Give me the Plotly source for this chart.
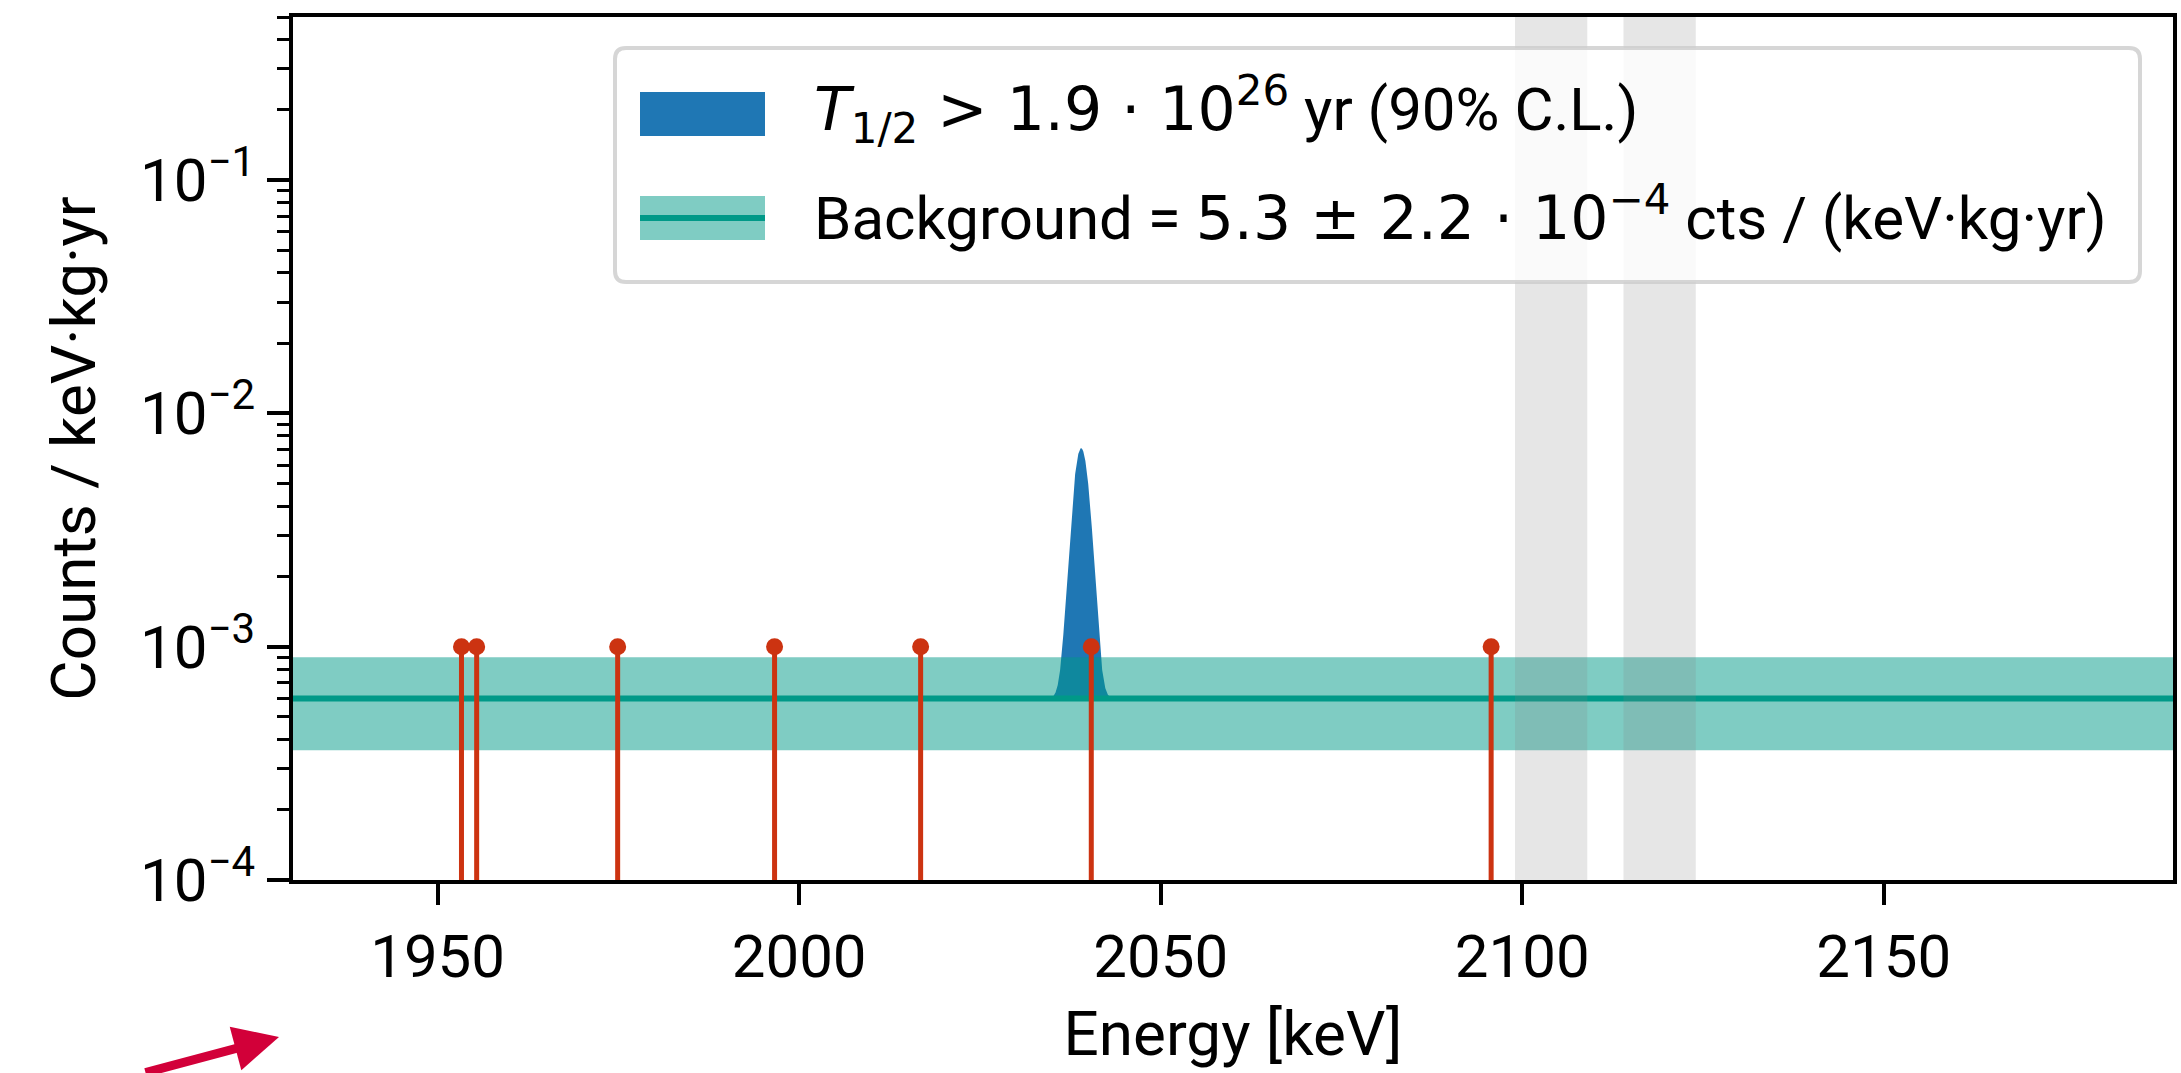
import numpy as np
import plotly.graph_objects as go

# ---------------- data ----------------
event_energies = [1953.3, 1955.4, 1974.9, 1996.6, 2016.8, 2040.4, 2095.7]   # keV
event_level = 1.0e-3

bkg_level = 6.0e-4
bkg_low = 3.6e-4
bkg_high = 9.0e-4

peak_center = 2039.0     # keV
peak_sigma = 1.1         # keV
peak_amplitude = 6.5e-3  # cts/(keV kg yr) above background

excluded_lo = [2099.0, 2114.0]
excluded_hi = [2109.0, 2124.0]

x_range = [1930.0, 2190.0]
y_range = [1.0e-4, 0.5]
x_ticks = [1950, 2000, 2050, 2100, 2150]
y_ticks = [1e-4, 1e-3, 1e-2, 1e-1]
y_ticktext = ["10<sup>\u22124</sup>", "10<sup>\u22123</sup>", "10<sup>\u22122</sup>", "10<sup>\u22121</sup>"]

MATH = "<span style=\"font-family:'DejaVu Sans'\">"
legend_signal = (MATH + "<i>T</i><sub>1/2</sub> &gt; 1.9 \u00b7 10<sup>26</sup></span>"
                 " yr (90% C.L.)")
legend_bkg = ("Background = " + MATH + "5.3 \u00b1 2.2 \u00b7 10<sup>\u22124</sup></span>"
              " cts / (keV\u00b7kg\u00b7yr)")

# ---------------- layout geometry (pixels) ----------------
W, H = 2181, 1073
L, R, T, B = 293, 8, 17, 193
PW, PH = W - L - R, H - T - B


def px(x):
    return (x - L) / PW


def py(y):
    return (H - B - y) / PH


BLUE = "#1f77b4"
TEAL = "#009988"
TEAL_A = "rgba(0,153,136,0.5)"
RED = "#cc3311"

fig = go.Figure()

# signal peak on top of background
xp = np.linspace(peak_center - 6 * peak_sigma, peak_center + 6 * peak_sigma, 601)
yp = bkg_level + peak_amplitude * np.exp(-0.5 * ((xp - peak_center) / peak_sigma) ** 2)
fig.add_trace(go.Scatter(x=xp, y=np.full_like(xp, bkg_level), mode="lines",
                         line=dict(width=0, color=BLUE), showlegend=False, hoverinfo="skip"))
fig.add_trace(go.Scatter(x=xp, y=yp, mode="lines", fill="tonexty", fillcolor=BLUE,
                         line=dict(width=0, color=BLUE), showlegend=False))

# background band
fig.add_trace(go.Scatter(x=x_range, y=[bkg_low, bkg_low], mode="lines",
                         line=dict(width=0, color=TEAL_A), showlegend=False, hoverinfo="skip"))
fig.add_trace(go.Scatter(x=x_range, y=[bkg_high, bkg_high], mode="lines", fill="tonexty",
                         fillcolor=TEAL_A, line=dict(width=0, color=TEAL_A), showlegend=False))
fig.add_trace(go.Scatter(x=x_range, y=[bkg_level, bkg_level], mode="lines",
                         line=dict(width=6, color=TEAL), showlegend=False))

# events (stems)
sx, sy = [], []
for e in event_energies:
    sx += [e, e, None]
    sy += [y_range[0], event_level, None]
fig.add_trace(go.Scatter(x=sx, y=sy, mode="lines", line=dict(width=5, color=RED),
                         showlegend=False, hoverinfo="skip"))
fig.add_trace(go.Scatter(x=event_energies, y=[event_level] * len(event_energies), mode="markers",
                         marker=dict(size=17, color=RED), showlegend=False))

shapes = []
# excluded regions
for a, b in zip(excluded_lo, excluded_hi):
    shapes.append(dict(type="rect", xref="x", yref="paper", x0=a, x1=b, y0=0, y1=1,
                       fillcolor="rgba(128,128,128,0.2)", line=dict(width=0), layer="above"))

# manual legend box (rounded)
x0, x1, y0, y1, r = 615, 2140, 48, 282, 11
rx, ry = r / PW, r / PH
X0, X1, Y0, Y1 = px(x0), px(x1), py(y1), py(y0)
path = (f"M{X0+rx},{Y0} L{X1-rx},{Y0} Q{X1},{Y0} {X1},{Y0+ry} L{X1},{Y1-ry} "
        f"Q{X1},{Y1} {X1-rx},{Y1} L{X0+rx},{Y1} Q{X0},{Y1} {X0},{Y1-ry} "
        f"L{X0},{Y0+ry} Q{X0},{Y0} {X0+rx},{Y0} Z")
shapes.append(dict(type="path", xref="paper", yref="paper", path=path,
                   fillcolor="rgba(255,255,255,0.8)", line=dict(color="rgba(204,204,204,0.8)", width=4),
                   layer="above"))
shapes.append(dict(type="rect", xref="paper", yref="paper", x0=px(640), x1=px(765), y0=py(136), y1=py(92),
                   fillcolor=BLUE, line=dict(width=0), layer="above"))
shapes.append(dict(type="rect", xref="paper", yref="paper", x0=px(640), x1=px(765), y0=py(240), y1=py(196),
                   fillcolor=TEAL_A, line=dict(width=0), layer="above"))
shapes.append(dict(type="line", xref="paper", yref="paper", x0=px(640), x1=px(765), y0=py(218), y1=py(218),
                   line=dict(color=TEAL, width=6), layer="above"))

annotations = [
    dict(xref="paper", yref="paper", x=px(812), y=py(110), text=legend_signal, showarrow=False,
         xanchor="left", yanchor="middle", font=dict(family="Roboto", size=60, color="black")),
    dict(xref="paper", yref="paper", x=px(812), y=py(214), text=legend_bkg, showarrow=False,
         xanchor="left", yanchor="middle", font=dict(family="Roboto", size=60, color="black")),
    # red arrow at the bottom left
    dict(xref="paper", yref="paper", x=px(279), y=py(1037), text="", showarrow=True,
         ax=-135, ay=40, arrowcolor="#d20039", arrowwidth=9, arrowhead=2, arrowsize=1, standoff=0),
]

minor_vals = [m * 10.0 ** e for e in range(-4, 0) for m in range(2, 10) if m * 10.0 ** e <= y_range[1]]

fig.update_layout(
    width=W, height=H,
    margin=dict(l=L, r=R, t=T, b=B, autoexpand=False),
    paper_bgcolor="white", plot_bgcolor="white",
    font=dict(family="Roboto", size=60, color="black"),
    shapes=shapes, annotations=annotations, showlegend=False,
    xaxis=dict(range=x_range, tickmode="array", tickvals=x_ticks, ticks="outside", ticklen=21,
               tickwidth=4, tickcolor="black", showline=True, linewidth=4, linecolor="black",
               mirror=True, showgrid=False, zeroline=False,
               tickfont=dict(family="Roboto", size=60, color="black"),
               title=dict(text="Energy [keV]", font=dict(family="Roboto", size=62), standoff=22)),
    yaxis=dict(type="log", range=[np.log10(y_range[0]), np.log10(y_range[1])], tickmode="array",
               tickvals=y_ticks, ticktext=y_ticktext, ticks="outside", ticklen=22, tickwidth=4,
               tickcolor="black", showline=True, linewidth=4, linecolor="black", mirror=True,
               showgrid=False, zeroline=False,
               tickfont=dict(family="Roboto", size=60, color="black"),
               minor=dict(tickmode="array", tickvals=minor_vals, ticks="outside", ticklen=12,
                          tickwidth=3, tickcolor="black", showgrid=False),
               title=dict(text="Counts / keV\u00b7kg\u00b7yr", font=dict(family="Roboto", size=62), standoff=25)),
)

fig.write_html("out.html")
